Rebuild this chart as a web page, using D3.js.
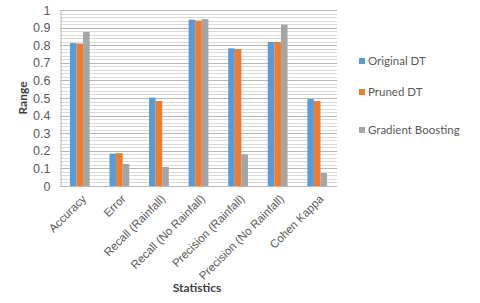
<!DOCTYPE html>
<html>
<head>
<meta charset="utf-8">
<script src="https://cdn.jsdelivr.net/npm/d3@7"></script>
<style>
  body { margin: 0; background: #fff; }
  svg { font-family: Lato, "Liberation Sans", sans-serif; }
</style>
</head>
<body>
<svg id="chart" width="480" height="303"></svg>
<script>
// data
const categories = ['Accuracy', 'Error', 'Recall (Rainfall)', 'Recall (No Rainfall)',
  'Precision (Rainfall)', 'Precision (No Rainfall)', 'Cohen Kappa'];
const seriesNames = ['Original DT', 'Pruned DT', 'Gradient Boosting'];
const originalDT = [0.812, 0.184, 0.502, 0.945, 0.782, 0.818, 0.494];
const prunedDT = [0.809, 0.187, 0.483, 0.94, 0.778, 0.818, 0.483];
const gradientBoosting = [0.875, 0.125, 0.108, 0.949, 0.18, 0.917, 0.074];
const yTicks = [0, 0.1, 0.2, 0.3, 0.4, 0.5, 0.6, 0.7, 0.8, 0.9, 1];

const seriesValues = [originalDT, prunedDT, gradientBoosting];
const colors = ['#5B9BD5', '#ED7D31', '#A5A5A5'];

// plot area
const plotLeft = 60, plotRight = 337, plotTop = 10, plotBottom = 186;

const svg = d3.select('#chart');

const x = d3.scaleBand().domain(categories).range([plotLeft, plotRight]).paddingInner(0.5).paddingOuter(0.25);
const xSub = d3.scaleBand().domain(seriesNames).range([0, x.bandwidth()]);
const y = d3.scaleLinear().domain([0, 1]).range([plotBottom, plotTop]);

// minor gridlines every 0.02
const g = svg.append('g');
g.selectAll('.minor').data(d3.range(0, 1.0001, 0.02).filter((d, i) => i % 5 !== 0))
  .enter().append('line')
  .attr('x1', plotLeft).attr('x2', plotRight)
  .attr('y1', d => Math.round(y(d)) + 0.5).attr('y2', d => Math.round(y(d)) + 0.5)
  .attr('stroke', '#DADADA').attr('stroke-width', 1);

// major gridlines
g.selectAll('.major').data(yTicks.slice(1))
  .enter().append('line')
  .attr('x1', plotLeft).attr('x2', plotRight)
  .attr('y1', d => Math.round(y(d)) + 0.5).attr('y2', d => Math.round(y(d)) + 0.5)
  .attr('stroke', '#B8B8B8').attr('stroke-width', 1);

// bars
seriesNames.forEach((s, si) => {
  g.append('g').selectAll('rect').data(seriesValues[si])
    .enter().append('rect')
    .attr('x', (d, i) => x(categories[i]) + xSub(s))
    .attr('width', xSub.bandwidth())
    .attr('y', d => y(d))
    .attr('height', d => y(0) - y(d))
    .attr('fill', colors[si]);
});

// y axis
const yAxis = svg.append('g')
  .attr('transform', `translate(${plotLeft + 0.5},0)`)
  .call(d3.axisLeft(y).tickValues(yTicks).tickFormat(d => d3.format('')(d)).tickSize(0).tickPadding(10));
yAxis.select('.domain').attr('stroke', '#B8B8B8');
yAxis.selectAll('text').attr('font-size', 12.5).attr('fill', '#595959');

// x axis
const xAxis = svg.append('g')
  .attr('transform', `translate(0,${plotBottom + 0.5})`)
  .call(d3.axisBottom(x).tickSize(0));
xAxis.select('.domain').attr('stroke', '#B8B8B8').attr('d', `M${plotLeft},0H${plotRight}`);
xAxis.selectAll('text')
  .attr('font-size', 11.5).attr('fill', '#595959')
  .attr('text-anchor', 'end')
  .attr('dy', 0)
  .attr('transform', 'translate(5,11) rotate(-45)');

// axis titles
svg.append('text')
  .attr('transform', `translate(27,${(plotTop + plotBottom) / 2}) rotate(-90)`)
  .attr('text-anchor', 'middle')
  .attr('font-size', 12).attr('font-weight', 'bold').attr('fill', '#404040')
  .text('Range');

svg.append('text')
  .attr('x', 197).attr('y', 292)
  .attr('text-anchor', 'middle')
  .attr('font-size', 12).attr('font-weight', 'bold').attr('fill', '#404040')
  .text('Statistics');

// legend
const legendY = [61, 92, 130];
const legend = svg.append('g').selectAll('g').data(seriesNames).enter().append('g')
  .attr('transform', (d, i) => `translate(359,${legendY[i]})`);
legend.append('rect').attr('x', 0).attr('y', -3).attr('width', 6).attr('height', 6)
  .attr('fill', (d, i) => colors[i]);
legend.append('text').attr('x', 9).attr('y', 0).attr('dy', '0.35em')
  .attr('font-size', 11.5).attr('fill', '#595959')
  .text(d => d);
</script>
</body>
</html>
